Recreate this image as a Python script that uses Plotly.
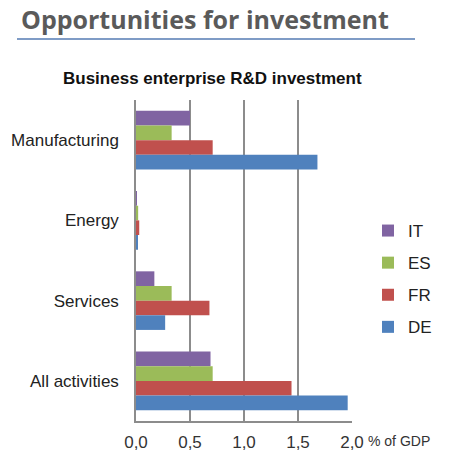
import plotly.graph_objects as go

categories = ["Manufacturing", "Energy", "Services", "All activities"]
countries = ["IT", "ES", "FR", "DE"]
values = {
    "IT": [0.50, 0.005, 0.17, 0.69],
    "ES": [0.33, 0.02, 0.33, 0.71],
    "FR": [0.71, 0.03, 0.68, 1.44],
    "DE": [1.68, 0.01, 0.27, 1.96],
}
colors = {"IT": "#8064A2", "ES": "#9BBB59", "FR": "#C0504D", "DE": "#4F81BD"}
tick_vals = [0, 0.5, 1.0, 1.5, 2.0]
tick_text = ["0,0", "0,5", "1,0", "1,5", "2,0"]

# page has an 8px body margin, so the figure is 442x457 and offset by 8
# plot area (page px): x 136..352, y 100..421
PW, PH = 216, 321

fig = go.Figure()
for c in countries:
    fig.add_trace(go.Bar(
        x=values[c], y=categories, orientation="h", name=c, legendgroup=c,
        marker=dict(color=colors[c], line_width=0),
    ))

fig.update_layout(
    width=442, height=457,
    margin=dict(l=128, r=98, t=92, b=44, autoexpand=False),
    paper_bgcolor="white", plot_bgcolor="white",
    barmode="group", bargap=0.27, bargroupgap=0,
    font=dict(family="Liberation Sans, Arial", color="#222222"),
    showlegend=True,
    legend=dict(x=(368 - 136) / PW, y=1 - (279 - 100) / PH, xanchor="left", yanchor="middle",
                font=dict(size=17), itemwidth=30, tracegroupgap=7,
                itemsizing="constant"),
)
fig.update_xaxes(
    range=[0, 2.0], tickvals=tick_vals, ticktext=tick_text,
    showgrid=True, gridcolor="#8C8C8C", gridwidth=1.5,
    showline=True, linecolor="#8C8C8C", linewidth=1.5,
    zeroline=False, tickfont=dict(size=17, color="#333333"),
    ticks="", ticklabelstandoff=5,
)
fig.update_yaxes(
    autorange="reversed", showline=True, linecolor="#8C8C8C", linewidth=1.5,
    tickfont=dict(size=17, color="#222222"), ticks="", ticklabelstandoff=12,
)

fig.add_annotation(text="Opportunities for investment", xref="paper", yref="paper",
                   x=(19 - 136) / PW, y=1 + (100 - 19) / PH, xanchor="left", yanchor="middle",
                   showarrow=False, font=dict(family="Open Sans", size=25, color="#5A5A5A", weight="bold"))
fig.add_shape(type="line", xref="paper", yref="paper",
              x0=(17 - 136) / PW, x1=(415 - 136) / PW,
              y0=1 + (100 - 39) / PH, y1=1 + (100 - 39) / PH,
              line=dict(color="#7F9CC6", width=2))
fig.add_annotation(text="<b>Business enterprise R&D investment</b>", xref="paper", yref="paper",
                   x=(212 - 136) / PW, y=1 + (100 - 78) / PH, xanchor="center", yanchor="middle",
                   showarrow=False, font=dict(size=17, color="#111111"))
fig.add_annotation(text="% of GDP", xref="paper", yref="paper",
                   x=(366 - 136) / PW, y=-(441 - 421) / PH, xanchor="left", yanchor="middle",
                   showarrow=False, font=dict(size=14, color="#333333"))

fig.write_html("out.html")
